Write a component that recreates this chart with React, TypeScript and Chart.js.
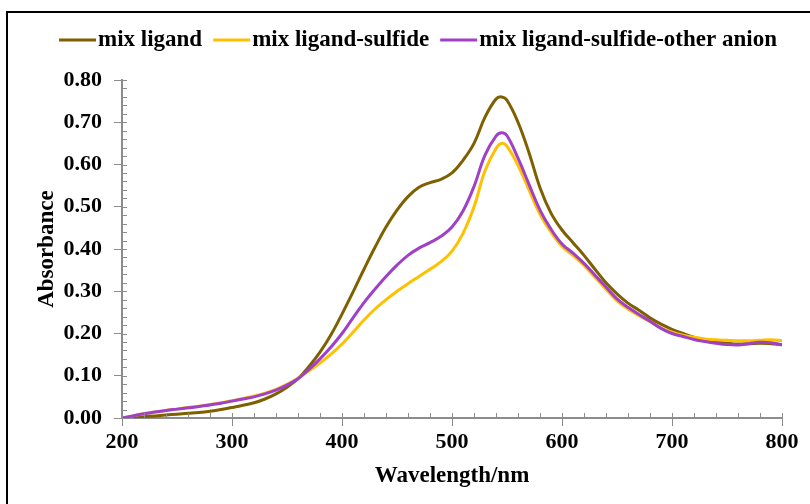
import React, { useEffect, useRef } from 'react';
import { Chart, registerables } from 'chart.js';

Chart.register(...registerables);

const wavelengths = [
  200, 210, 220, 230, 240, 250, 260, 270, 280, 290, 300, 310, 320, 330, 340, 350, 360, 370, 380, 390,
  400, 410, 420, 430, 440, 450, 460, 470, 480, 490, 500, 510, 520, 530, 540, 545, 550, 560, 570, 580,
  590, 600, 610, 620, 630, 640, 650, 660, 670, 680, 690, 700, 710, 720, 730, 740, 750, 760, 770, 780,
  790, 800,
];

const mixLigand = [
  0.000, 0.001, 0.003, 0.005, 0.007, 0.009, 0.011, 0.013, 0.016, 0.020, 0.025, 0.030, 0.036, 0.045, 0.057, 0.073, 0.093, 0.122, 0.156, 0.197,
  0.246, 0.298, 0.352, 0.404, 0.452, 0.492, 0.524, 0.546, 0.557, 0.565, 0.580, 0.610, 0.650, 0.712, 0.755, 0.760, 0.752, 0.700, 0.628, 0.545,
  0.485, 0.445, 0.415, 0.385, 0.352, 0.320, 0.294, 0.272, 0.255, 0.237, 0.222, 0.210, 0.200, 0.191, 0.184, 0.180, 0.177, 0.175, 0.176, 0.177,
  0.176, 0.174,
];

const mixLigandSulfide = [
  0.000, 0.005, 0.010, 0.014, 0.018, 0.021, 0.025, 0.028, 0.032, 0.036, 0.041, 0.046, 0.052, 0.059, 0.068, 0.080, 0.094, 0.112, 0.130, 0.151,
  0.175, 0.203, 0.232, 0.258, 0.280, 0.300, 0.318, 0.335, 0.352, 0.370, 0.395, 0.437, 0.500, 0.585, 0.638, 0.650, 0.643, 0.598, 0.540, 0.482,
  0.440, 0.406, 0.385, 0.361, 0.333, 0.305, 0.277, 0.258, 0.242, 0.228, 0.213, 0.203, 0.196, 0.191, 0.187, 0.185, 0.184, 0.183, 0.183, 0.184,
  0.185, 0.183,
];

const mixLigandSulfideOtherAnion = [
  0.000, 0.005, 0.010, 0.014, 0.018, 0.021, 0.024, 0.027, 0.031, 0.035, 0.040, 0.045, 0.050, 0.057, 0.066, 0.078, 0.093, 0.115, 0.140, 0.168,
  0.200, 0.237, 0.273, 0.305, 0.335, 0.362, 0.385, 0.402, 0.415, 0.430, 0.452, 0.490, 0.548, 0.622, 0.667, 0.675, 0.668, 0.615, 0.553, 0.492,
  0.447, 0.412, 0.390, 0.366, 0.338, 0.310, 0.282, 0.262, 0.245, 0.229, 0.212, 0.200, 0.193, 0.186, 0.181, 0.177, 0.174, 0.173, 0.176, 0.179,
  0.178, 0.173,
];

const seriesLabels = ['mix ligand', 'mix ligand-sulfide', 'mix ligand-sulfide-other anion'];
const seriesColors = ['#7F6000', '#FFC000', '#A040C8'];
const xTitle = 'Wavelength/nm';
const yTitle = 'Absorbance';

const FONT = '"Liberation Serif", "Times New Roman", serif';
const AXIS_COLOR = '#8c8c8c';
const TEXT_COLOR = '#000000';

const toPoints = (ys: number[]) => ys.map((y, i) => ({ x: wavelengths[i], y }));

const decorPlugin = {
  id: 'decor',
  beforeDraw(chart: any) {
    const { ctx, width, height } = chart;
    ctx.save();
    ctx.fillStyle = '#ffffff';
    ctx.fillRect(0, 0, width, height);
    ctx.strokeStyle = '#000000';
    ctx.lineWidth = 2;
    ctx.beginPath();
    ctx.moveTo(7, height);
    ctx.lineTo(7, 12);
    ctx.lineTo(width, 12);
    ctx.stroke();
    ctx.restore();
  },
  afterDatasetsDraw(chart: any) {
    const { ctx, chartArea, scales } = chart;
    const xs = scales.x;
    const ys = scales.y;
    ctx.save();
    ctx.strokeStyle = AXIS_COLOR;
    ctx.lineWidth = 1;
    ctx.beginPath();
    for (let v = 200; v <= 800; v += 20) {
      const px = Math.round(xs.getPixelForValue(v)) + 0.5;
      ctx.moveTo(px, chartArea.bottom);
      ctx.lineTo(px, chartArea.bottom - 5);
    }
    for (let i = 0; i <= 40; i++) {
      const v = i * 0.02;
      const py = Math.round(ys.getPixelForValue(v)) + 0.5;
      ctx.moveTo(chartArea.left, py);
      ctx.lineTo(chartArea.left + 5, py);
    }
    ctx.stroke();
    ctx.restore();
  },
  afterDraw(chart: any) {
    const { ctx } = chart;
    ctx.save();
    ctx.font = `bold 23px ${FONT}`;
    ctx.textBaseline = 'middle';
    ctx.textAlign = 'left';
    const cy = 40;
    let x = 59;
    chart.data.datasets.forEach((ds: any) => {
      ctx.strokeStyle = ds.borderColor;
      ctx.lineWidth = 3;
      ctx.beginPath();
      ctx.moveTo(x, cy);
      ctx.lineTo(x + 37, cy);
      ctx.stroke();
      x += 39;
      ctx.fillStyle = TEXT_COLOR;
      ctx.fillText(ds.label, x, cy);
      x += ctx.measureText(ds.label).width + 11;
    });
    ctx.restore();
  },
};

export default function App() {
  const ref = useRef<HTMLCanvasElement>(null);

  useEffect(() => {
    document.body.style.margin = '0';
    const canvas = ref.current;
    if (!canvas) return;
    const datasets = [mixLigand, mixLigandSulfide, mixLigandSulfideOtherAnion].map((ys, i) => ({
      label: seriesLabels[i],
      data: toPoints(ys),
      borderColor: seriesColors[i],
      backgroundColor: seriesColors[i],
      borderWidth: 3,
      pointRadius: 0,
      tension: 0.4,
      fill: false,
      order: 3 - i,
    }));

    const chart = new Chart(canvas, {
      type: 'line',
      data: { datasets },
      plugins: [decorPlugin],
      options: {
        animation: false,
        responsive: false,
        layout: { padding: { top: 80, left: 0, right: 28, bottom: 14 } },
        plugins: {
          tooltip: { enabled: false },
          legend: { display: false },
        },
        scales: {
          x: {
            type: 'linear',
            min: 200,
            max: 800,
            border: { color: AXIS_COLOR, width: 2 },
            grid: { display: true, drawOnChartArea: false, drawTicks: true, tickLength: 8, color: AXIS_COLOR, lineWidth: 1 },
            ticks: {
              stepSize: 100,
              color: TEXT_COLOR,
              padding: 3,
              font: { family: FONT, size: 22, weight: 'bold' },
            },
            title: {
              display: true,
              text: xTitle,
              color: TEXT_COLOR,
              padding: { top: 4, bottom: 0 },
              font: { family: FONT, size: 23, weight: 'bold' },
            },
          },
          y: {
            min: 0,
            max: 0.8,
            afterFit: (s: any) => { s.width = 122; },
            border: { color: AXIS_COLOR, width: 2 },
            grid: { display: true, drawOnChartArea: false, drawTicks: true, tickLength: 8, color: AXIS_COLOR, lineWidth: 1 },
            ticks: {
              stepSize: 0.1,
              color: TEXT_COLOR,
              padding: 12,
              callback: (v: any) => Number(v).toFixed(2),
              font: { family: FONT, size: 22, weight: 'bold' },
            },
            title: {
              display: true,
              text: yTitle,
              color: TEXT_COLOR,
              padding: { top: 33, bottom: 4 },
              font: { family: FONT, size: 23, weight: 'bold' },
            },
          },
        },
      },
    });
    return () => chart.destroy();
  }, []);

  return (
    <div style={{ width: 810, height: 504, background: '#fff' }}>
      <canvas ref={ref} width={810} height={504} style={{ width: 810, height: 504, display: 'block' }} />
    </div>
  );
}
